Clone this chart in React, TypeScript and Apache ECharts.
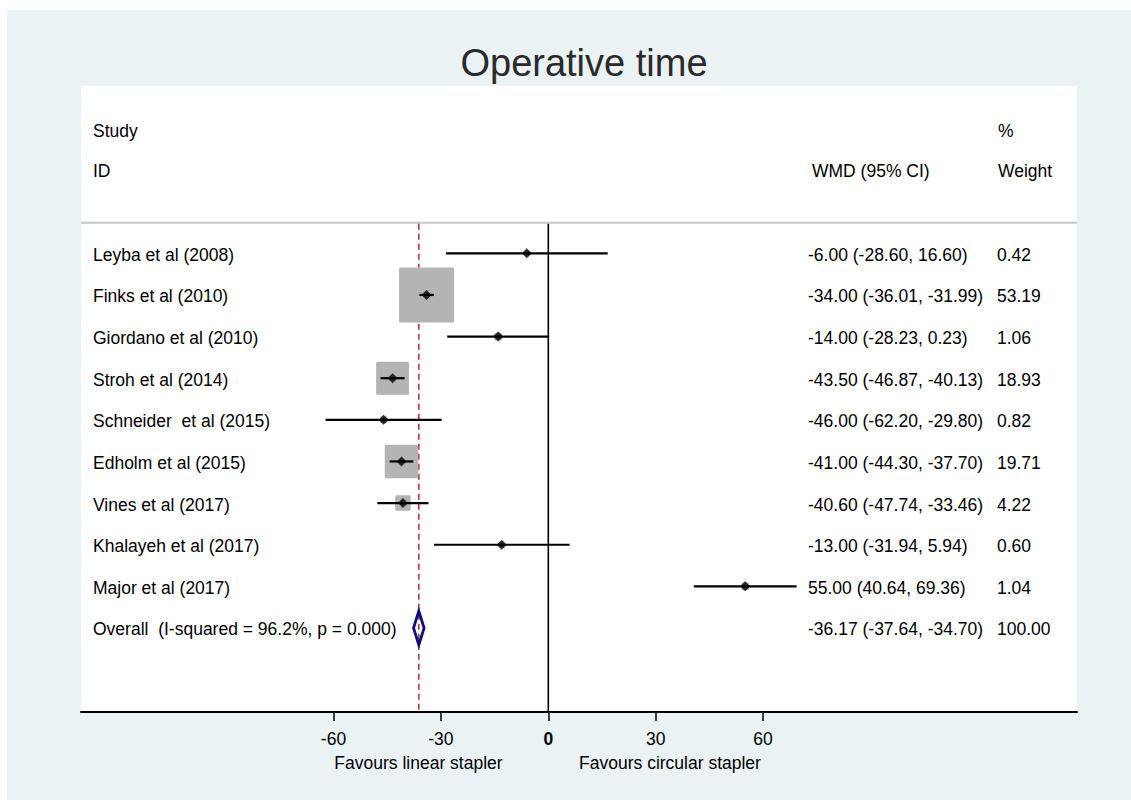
import React, { useEffect, useRef } from "react";
import * as echarts from "echarts";

const FONT = '"Liberation Sans", Arial, Helvetica, sans-serif';

const STUDIES = [
  "Leyba et al (2008)",
  "Finks et al (2010)",
  "Giordano et al (2010)",
  "Stroh et al (2014)",
  "Schneider  et al (2015)",
  "Edholm et al (2015)",
  "Vines et al (2017)",
  "Khalayeh et al (2017)",
  "Major et al (2017)",
];
const ESTIMATES = [-6.0, -34.0, -14.0, -43.5, -46.0, -41.0, -40.6, -13.0, 55.0];
const LOWER = [-28.6, -36.01, -28.23, -46.87, -62.2, -44.3, -47.74, -31.94, 40.64];
const UPPER = [16.6, -31.99, 0.23, -40.13, -29.8, -37.7, -33.46, 5.94, 69.36];
const WEIGHTS = [0.42, 53.19, 1.06, 18.93, 0.82, 19.71, 4.22, 0.6, 1.04];

const OVERALL_LABEL = "Overall  (I-squared = 96.2%, p = 0.000)";
const OVERALL_EST = -36.17;
const OVERALL_LO = -37.64;
const OVERALL_HI = -34.7;
const OVERALL_WEIGHT = 100.0;

const X_TICKS = [-60, -30, 0, 30, 60];
const X_MIN = -130.53;
const X_MAX = 147.68;
const Y_MIN = -4.019;
const Y_MAX = 11.018;
const SEP_ROW = -0.736;

const fmtCI = (e: number, l: number, h: number) =>
  `${e.toFixed(2)} (${l.toFixed(2)}, ${h.toFixed(2)})`;

const ROW_LABELS = [...STUDIES, OVERALL_LABEL];
const ROW_CI = [
  ...ESTIMATES.map((e, i) => fmtCI(e, LOWER[i], UPPER[i])),
  fmtCI(OVERALL_EST, OVERALL_LO, OVERALL_HI),
];
const ROW_W = [...WEIGHTS.map((w) => w.toFixed(2)), OVERALL_WEIGHT.toFixed(2)];

const TEXT_FONT = `17.5px ${FONT}`;

export default function App() {
  const ref = useRef<HTMLDivElement>(null);

  useEffect(() => {
    document.body.style.margin = "0";
    if (!ref.current) return;
    const chart = echarts.init(ref.current, null, { renderer: "svg" });

    const txt = (text: string, x: number, y: number, align = "left") => ({
      type: "text",
      x,
      y,
      style: {
        text,
        font: TEXT_FONT,
        fill: "#000",
        align,
        verticalAlign: "middle",
      },
    });

    const option: any = {
      animation: false,
      backgroundColor: "#EAF2F3",
      title: {
        text: "Operative time",
        left: 572,
        top: 29,
        textAlign: "center",
        textStyle: {
          fontSize: 38,
          fontWeight: "normal",
          color: "#2a2a2a",
          fontFamily: FONT,
        },
      },
      grid: {
        left: 74,
        right: 54,
        top: 76,
        bottom: 88,
        show: true,
        backgroundColor: "#ffffff",
        borderWidth: 0,
      },
      xAxis: {
        type: "value",
        min: X_MIN,
        max: X_MAX,
        splitLine: { show: false },
        axisLine: { onZero: false, lineStyle: { color: "#000", width: 2 } },
        axisTick: {
          show: true,
          customValues: X_TICKS,
          length: 9,
          lineStyle: { color: "#000", width: 1.5 },
        },
        axisLabel: {
          customValues: X_TICKS,
          margin: 18,
          fontSize: 17.5,
          color: "#000",
          fontFamily: FONT,
          formatter: (v: number) => (v === 0 ? "{b|0}" : String(v)),
          rich: {
            b: { fontWeight: "bold", fontSize: 17.5, fontFamily: FONT, color: "#000" },
          },
        },
      },
      yAxis: {
        type: "value",
        inverse: true,
        min: Y_MIN,
        max: Y_MAX,
        show: false,
      },
      graphic: [
        txt("Study", 86, 121),
        txt("ID", 86, 161),
        txt("WMD (95% CI)", 805, 161),
        txt("%", 991, 121),
        txt("Weight", 991, 161),
        { ...txt("Favours linear stapler", 411.5, 753, "center") },
        { ...txt("Favours circular stapler", 663, 753, "center") },
      ],
      series: [
        {
          // reference lines: header separator, null line, overall line
          type: "custom",
          z: 1,
          data: [[0, OVERALL_EST]],
          renderItem: (params: any, api: any) => {
            const cs = params.coordSys;
            const sepY = api.coord([0, SEP_ROW])[1];
            const bottom = cs.y + cs.height;
            const x0 = api.coord([api.value(0), 0])[0];
            const xo = api.coord([api.value(1), 0])[0];
            return {
              type: "group",
              children: [
                {
                  type: "line",
                  shape: { x1: cs.x, y1: sepY, x2: cs.x + cs.width, y2: sepY },
                  style: { stroke: "#C6C6C6", lineWidth: 2 },
                },
                {
                  type: "line",
                  shape: { x1: xo, y1: sepY + 1, x2: xo, y2: bottom },
                  style: { stroke: "#B03A46", lineWidth: 1.6, lineDash: [6, 4] },
                },
                {
                  type: "line",
                  shape: { x1: x0, y1: sepY + 1, x2: x0, y2: bottom },
                  style: { stroke: "#000", lineWidth: 1.6 },
                },
              ],
            };
          },
        },
        {
          // weight boxes
          type: "custom",
          z: 2,
          data: ESTIMATES.map((e, i) => [e, i, WEIGHTS[i]]),
          renderItem: (params: any, api: any) => {
            const [cx, cy] = api.coord([api.value(0), api.value(1)]);
            const side = 7.55 * Math.sqrt(api.value(2));
            return {
              type: "rect",
              shape: { x: cx - side / 2, y: cy - side / 2, width: side, height: side, r: 1.5 },
              style: { fill: "#B4B4B4" },
            };
          },
        },
        {
          // confidence intervals
          type: "custom",
          z: 3,
          data: ESTIMATES.map((e, i) => [LOWER[i], UPPER[i], i]),
          renderItem: (params: any, api: any) => {
            const p1 = api.coord([api.value(0), api.value(2)]);
            const p2 = api.coord([api.value(1), api.value(2)]);
            return {
              type: "line",
              shape: { x1: p1[0], y1: p1[1], x2: p2[0], y2: p2[1] },
              style: { stroke: "#000", lineWidth: 2.2 },
            };
          },
        },
        {
          type: "scatter",
          z: 4,
          symbol: "diamond",
          symbolSize: [10, 10],
          itemStyle: { color: "#000" },
          data: ESTIMATES.map((e, i) => [e, i]),
        },
        {
          // overall diamond
          type: "custom",
          z: 4,
          data: [[OVERALL_LO, OVERALL_EST, OVERALL_HI, STUDIES.length]],
          renderItem: (params: any, api: any) => {
            const row = api.value(3);
            const [xl, cy] = api.coord([api.value(0), row]);
            const xe = api.coord([api.value(1), row])[0];
            const xh = api.coord([api.value(2), row])[0];
            const h = 17;
            return {
              type: "polygon",
              shape: {
                points: [
                  [xl, cy],
                  [xe, cy - h],
                  [xh, cy],
                  [xe, cy + h],
                ],
              },
              style: { fill: "rgba(0,0,0,0)", stroke: "#10107A", lineWidth: 2.8 },
            };
          },
        },
        {
          // row texts
          type: "custom",
          z: 5,
          data: ROW_LABELS.map((_, i) => [0, i]),
          renderItem: (params: any, api: any) => {
            const i = params.dataIndex;
            const cy = api.coord([0, api.value(1)])[1] + 1.5;
            return {
              type: "group",
              children: [
                txt(ROW_LABELS[i], 86, cy),
                txt(ROW_CI[i], 801, cy),
                txt(ROW_W[i], 990, cy),
              ],
            };
          },
        },
      ],
    };

    chart.setOption(option);
    return () => chart.dispose();
  }, []);

  return (
    <div
      ref={ref}
      style={{ position: "absolute", left: 7, top: 10, width: 1124, height: 790 }}
    />
  );
}
